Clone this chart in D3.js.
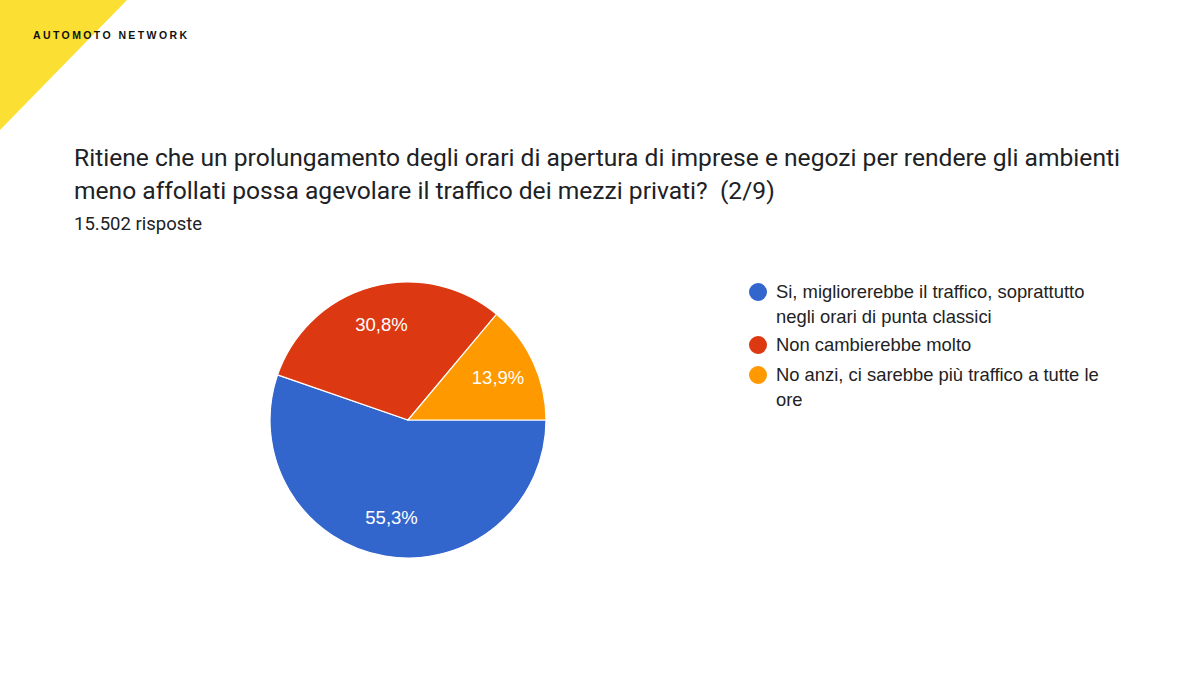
<!DOCTYPE html>
<html><head><meta charset="utf-8">
<script src="https://cdn.jsdelivr.net/npm/d3@7"></script>
<style>body{margin:0;background:#fff}svg{display:block}</style>
</head><body>
<svg id="c" width="1200" height="675"></svg>
<script>
const categories = ["Si, migliorerebbe il traffico, soprattutto|negli orari di punta classici", "Non cambierebbe molto", "No anzi, ci sarebbe più traffico a tutte le|ore"];
const values = [55.3, 30.8, 13.9];
const labels = ["55,3%", "30,8%", "13,9%"];
const colors = ["#3366cc", "#dc3912", "#ff9900"];

const svg = d3.select("#c");
svg.append("rect").attr("width",1200).attr("height",675).attr("fill","#fff");
// logo
svg.append("path").attr("d","M0,0L127,0L0,130Z").attr("fill","#fbe033");
svg.append("text").attr("x",33).attr("y",39).attr("font-family","Liberation Sans, Arial, sans-serif")
  .attr("font-weight","bold").attr("font-size",10.5).attr("letter-spacing",2.4).attr("fill","#111").text("AUTOMOTO NETWORK");

const title = ["Ritiene che un prolungamento degli orari di apertura di imprese e negozi per rendere gli ambienti",
  "meno affollati possa agevolare il traffico dei mezzi privati?  (2/9)"];
svg.selectAll("text.t").data(title).join("text").attr("class","t")
  .attr("x",74).attr("y",(d,i)=>166+i*33).attr("font-family","Roboto, sans-serif").attr("font-size",24.6)
  .attr("fill","#202124").attr("xml:space","preserve").style("white-space","pre").text(d=>d);
svg.append("text").attr("x",74).attr("y",230).attr("font-family","Roboto, sans-serif").attr("font-size",18.5)
  .attr("fill","#202124").text("15.502 risposte");

const cx=408, cy=420, r=138;
const pie = d3.pie().sort(null).value(d=>d).startAngle(Math.PI/2).endAngle(Math.PI/2+2*Math.PI);
const arcs = pie(values);
const arc = d3.arc().innerRadius(0).outerRadius(r);
const labelArc = d3.arc().innerRadius(r*0.72).outerRadius(r*0.72);
const g = svg.append("g").attr("transform",`translate(${cx},${cy})`);
g.selectAll("path").data(arcs).join("path").attr("d",arc).attr("fill",(d,i)=>colors[i])
  .attr("stroke","#fff").attr("stroke-width",1.2);
g.selectAll("text").data(arcs).join("text")
  .attr("transform",d=>`translate(${labelArc.centroid(d)})`).attr("text-anchor","middle").attr("dy","0.35em")
  .attr("font-family","Liberation Sans, Arial, sans-serif").attr("font-size",18.5).attr("fill","#fff")
  .text((d,i)=>labels[i]);

// legend
const legY = [292, 345, 375];
const lg = svg.append("g");
categories.forEach((c,i)=>{
  lg.append("circle").attr("cx",758).attr("cy",legY[i]).attr("r",9).attr("fill",colors[i]);
  c.split("|").forEach((line,j)=>{
    lg.append("text").attr("x",776).attr("y",legY[i]+j*25).attr("dy","0.35em")
      .attr("font-family","Liberation Sans, Arial, sans-serif").attr("font-size",18.4).attr("fill","#222").text(line);
  });
});
</script>
</body></html>
